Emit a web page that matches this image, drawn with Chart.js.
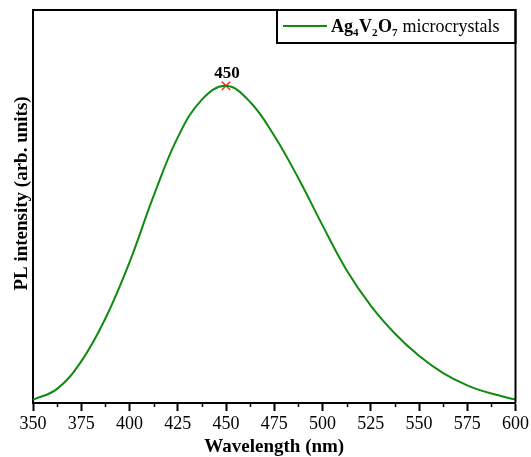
<!DOCTYPE html>
<html>
<head>
<meta charset="utf-8">
<script src="https://cdn.jsdelivr.net/npm/chart.js@4/dist/chart.umd.min.js"></script>
<style>
html,body{margin:0;padding:0;background:#fff;}
#wrap{width:531px;height:457px;position:relative;}
</style>
</head>
<body>
<div id="wrap"><canvas id="c" width="531" height="457"></canvas></div>
<script>
// Data
const wavelengths = [350, 362.5, 375, 387.5, 400, 412.5, 425, 437.5, 450, 462.5, 475, 487.5, 500, 512.5, 525, 537.5, 550, 562.5, 575, 587.5, 600];
const intensity   = [8, 36, 106, 215, 358, 527, 676, 772, 807, 766, 680, 572, 452, 338, 248, 177, 120, 76, 45, 24, 9];
const peakWavelength = [450];
const peakIntensity = [807];
const peakLabel = "450";
const xTickValues = [350, 375, 400, 425, 450, 475, 500, 525, 550, 575, 600];
const xMinorTicks = [362.5, 387.5, 412.5, 437.5, 462.5, 487.5, 512.5, 537.5, 562.5, 587.5];
const xTitle = "Wavelength (nm)";
const yTitle = "PL intensity (arb. units)";
const legendParts = [["Ag", "b"], ["4", "s"], ["V", "b"], ["2", "s"], ["O", "b"], ["7", "s"], [" microcrystals", "n"]];
const seriesName = "Ag4V2O7 microcrystals";

const FONT = "'Liberation Serif', 'Times New Roman', serif";
const GREEN = "#108a10";

const framePlugin = {
  id: "frame",
  afterDraw(chart) {
    const {ctx, chartArea: a, scales} = chart;
    ctx.save();
    ctx.strokeStyle = "#000";
    ctx.lineWidth = 2;
    ctx.beginPath();
    ctx.moveTo(a.left, a.top); ctx.lineTo(a.right, a.top); ctx.lineTo(a.right, a.bottom);
    ctx.stroke();
    // minor ticks
    ctx.lineWidth = 1.5;
    xMinorTicks.forEach(v => {
      const px = Math.round(scales.x.getPixelForValue(v)) + 0.5;
      ctx.beginPath(); ctx.moveTo(px, a.bottom); ctx.lineTo(px, a.bottom + 4); ctx.stroke();
    });
    // peak label
    const meta = chart.getDatasetMeta(1);
    const pt = meta.data[0];
    ctx.fillStyle = "#000";
    ctx.font = "bold 17px " + FONT;
    ctx.textAlign = "center";
    ctx.textBaseline = "alphabetic";
    ctx.fillText(peakLabel, pt.x + 1, pt.y - 8);
    // legend box
    const lx = 277, ly = a.top, lr = a.right, lb = 43;
    ctx.lineWidth = 2;
    ctx.strokeRect(lx, ly, lr - lx, lb - ly);
    ctx.strokeStyle = GREEN; ctx.lineWidth = 2;
    ctx.beginPath(); ctx.moveTo(283, 26); ctx.lineTo(327, 26); ctx.stroke();
    let tx = 331;
    ctx.textAlign = "left";
    legendParts.forEach(([t, k]) => {
      if (k === "b") { ctx.font = "bold 18px " + FONT; ctx.fillText(t, tx, 32); }
      else if (k === "s") { ctx.font = "bold 11px " + FONT; ctx.fillText(t, tx, 36); }
      else { ctx.font = "18px " + FONT; ctx.fillText(t, tx, 32); }
      tx += ctx.measureText(t).width + (k === "s" ? 0.5 : 0);
    });
    ctx.restore();
  }
};

new Chart(document.getElementById("c"), {
  type: "line",
  data: {
    datasets: [
      {
        label: seriesName,
        data: wavelengths.map((w, i) => ({x: w, y: intensity[i]})),
        borderColor: GREEN,
        borderWidth: 2,
        pointRadius: 0,
        fill: false,
        tension: 0.4
      },
      {
        label: "peak",
        data: peakWavelength.map((w, i) => ({x: w, y: peakIntensity[i]})),
        showLine: false,
        pointStyle: "crossRot",
        pointRadius: 6,
        borderColor: "#ff3030",
        borderWidth: 1.5
      }
    ]
  },
  options: {
    responsive: false,
    animation: false,
    layout: {padding: {top: 10, right: 15, left: 0, bottom: 0}},
    plugins: {legend: {display: false}, tooltip: {enabled: false}},
    scales: {
      x: {
        type: "linear",
        min: 350, max: 600,
        afterFit(s) { s.height = 54; },
        afterBuildTicks(s) { s.ticks = xTickValues.map(v => ({value: v})); },
        ticks: {
          color: "#000",
          font: {family: FONT, size: 18},
          padding: 2,
          maxRotation: 0,
          autoSkip: false
        },
        grid: {drawOnChartArea: false, drawTicks: true, tickLength: 8, tickWidth: 2, tickColor: "#000"},
        border: {display: true, color: "#000", width: 2},
        title: {display: true, text: xTitle, color: "#000", font: {family: FONT, size: 19, weight: "bold"}, padding: {top: 0, bottom: -1}}
      },
      y: {
        min: 0, max: 1000,
        afterFit(s) { s.width = 33; },
        afterUpdate(s) {
          if (!s._titleShifted) {
            const orig = s.drawTitle.bind(s);
            s.drawTitle = function () {
              const c = this.ctx; c.save(); c.translate(0, -13); orig(); c.restore();
            };
            s._titleShifted = true;
          }
        },
        ticks: {display: false},
        grid: {drawOnChartArea: false, drawTicks: false},
        border: {display: true, color: "#000", width: 2},
        title: {display: true, text: yTitle, color: "#000", font: {family: FONT, size: 19, weight: "bold"}, padding: {top: 11, bottom: 0}}
      }
    }
  },
  plugins: [framePlugin]
});
</script>
</body>
</html>
